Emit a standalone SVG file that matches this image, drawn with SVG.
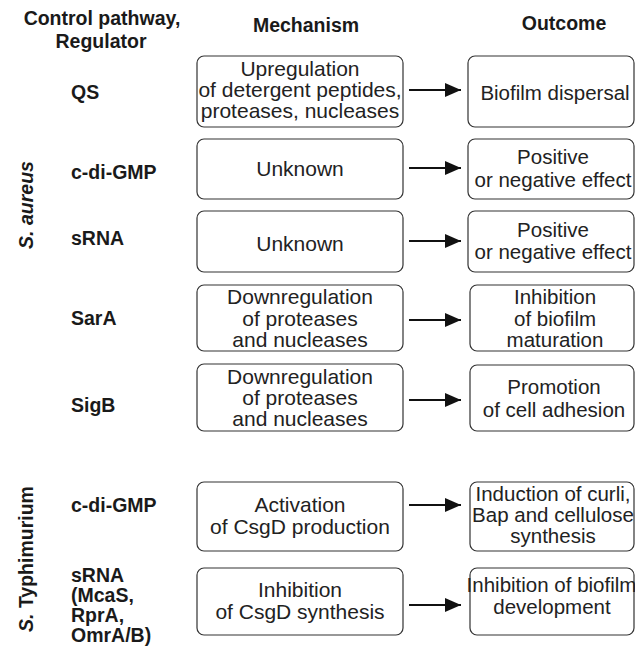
<svg xmlns="http://www.w3.org/2000/svg" width="635" height="655" viewBox="0 0 635 655">
<defs>
<style>
.h{font-family:"Liberation Sans",Arial,sans-serif;font-weight:bold;font-size:19.5px;fill:#1a1a1a}
.l{font-family:"Liberation Sans",Arial,sans-serif;font-weight:bold;font-size:19.5px;fill:#1a1a1a}
.t{font-family:"Liberation Sans",Arial,sans-serif;font-size:21px;fill:#222;text-anchor:middle}
.o{font-family:"Liberation Sans",Arial,sans-serif;font-size:20.5px;fill:#222;text-anchor:middle}
.b{fill:#fff;stroke:#333;stroke-width:1.2}
.a{stroke:#111;stroke-width:2.2;fill:none}
</style>
<marker id="ah" markerUnits="userSpaceOnUse" markerWidth="18" markerHeight="16" refX="16" refY="7" orient="auto">
<path d="M0,0 L16,7 L0,14 z" fill="#111"/>
</marker>
</defs>
<rect width="635" height="655" fill="#fff"/>
<g id="headers">
<text class="h" x="102" y="25" text-anchor="middle">Control pathway,</text>
<text class="h" x="101" y="48" text-anchor="middle">Regulator</text>
<text class="h" x="306" y="32" text-anchor="middle">Mechanism</text>
<text class="h" x="564" y="30" text-anchor="middle">Outcome</text>
</g>
<g id="species">
<text class="h" transform="translate(33,205) rotate(-90)" text-anchor="middle"><tspan font-style="italic">S. aureus</tspan></text>
<text class="h" transform="translate(33,559) rotate(-90)" text-anchor="middle"><tspan font-style="italic">S.</tspan> Typhimurium</text>
</g>
<g id="row-qs">
<text class="l" x="71" y="99">QS</text>
<g id="mech-qs"><rect class="b" x="197" y="56" width="206" height="71" rx="7"/>
<text class="t" x="300" y="76">Upregulation</text>
<text class="t" x="300" y="97">of detergent peptides,</text>
<text class="t" x="300" y="118">proteases, nucleases</text></g>
<g id="out-qs"><rect class="b" x="468" y="56" width="166" height="71" rx="7"/>
<text class="o" x="555" y="100">Biofilm dispersal</text></g>
</g>
<g id="row-cdigmp-sa">
<text class="l" x="71" y="179">c-di-GMP</text>
<g id="mech-cdigmp-sa"><rect class="b" x="197" y="139" width="206" height="60" rx="7"/>
<text class="t" x="300" y="176">Unknown</text></g>
<g id="out-cdigmp-sa"><rect class="b" x="468" y="139" width="166" height="60" rx="7"/>
<text class="o" x="553" y="164">Positive</text>
<text class="o" x="553" y="187">or negative effect</text></g>
</g>
<g id="row-srna-sa">
<text class="l" x="71" y="245">sRNA</text>
<g id="mech-srna-sa"><rect class="b" x="197" y="211" width="206" height="61" rx="7"/>
<text class="t" x="300" y="251">Unknown</text></g>
<g id="out-srna-sa"><rect class="b" x="468" y="211" width="166" height="61" rx="7"/>
<text class="o" x="553" y="237">Positive</text>
<text class="o" x="553" y="259">or negative effect</text></g>
</g>
<g id="row-sara">
<text class="l" x="71" y="325">SarA</text>
<g id="mech-sara"><rect class="b" x="197" y="285" width="206" height="66" rx="7"/>
<text class="t" x="300" y="304">Downregulation</text>
<text class="t" x="300" y="326">of proteases</text>
<text class="t" x="300" y="347">and nucleases</text></g>
<g id="out-sara"><rect class="b" x="470" y="285" width="164" height="66" rx="7"/>
<text class="o" x="555" y="304">Inhibition</text>
<text class="o" x="555" y="326">of biofilm</text>
<text class="o" x="555" y="347">maturation</text></g>
</g>
<g id="row-sigb">
<text class="l" x="71" y="412">SigB</text>
<g id="mech-sigb"><rect class="b" x="197" y="364" width="206" height="67" rx="7"/>
<text class="t" x="300" y="384">Downregulation</text>
<text class="t" x="300" y="405">of proteases</text>
<text class="t" x="300" y="426">and nucleases</text></g>
<g id="out-sigb"><rect class="b" x="470" y="365" width="164" height="66" rx="7"/>
<text class="o" x="554" y="394">Promotion</text>
<text class="o" x="554" y="417">of cell adhesion</text></g>
</g>
<g id="row-cdigmp-st">
<text class="l" x="71" y="512">c-di-GMP</text>
<g id="mech-cdigmp-st"><rect class="b" x="197" y="482" width="206" height="69" rx="7"/>
<text class="t" x="300" y="512">Activation</text>
<text class="t" x="300" y="534">of CsgD production</text></g>
<g id="out-cdigmp-st"><rect class="b" x="470" y="482" width="164" height="69" rx="7"/>
<text class="o" x="553" y="501">Induction of curli,</text>
<text class="o" x="553" y="522">Bap and cellulose</text>
<text class="o" x="553" y="543">synthesis</text></g>
</g>
<g id="row-srna-st">
<text class="l" x="71" y="582">sRNA</text>
<text class="l" x="71" y="602">(McaS,</text>
<text class="l" x="71" y="622">RprA,</text>
<text class="l" x="71" y="642">OmrA/B)</text>
<g id="mech-srna-st"><rect class="b" x="197" y="568" width="206" height="67" rx="7"/>
<text class="t" x="300" y="597">Inhibition</text>
<text class="t" x="300" y="619">of CsgD synthesis</text></g>
<g id="out-srna-st"><rect class="b" x="470" y="568" width="164" height="67" rx="7"/>
<text class="o" x="551.5" y="592" font-size="20">Inhibition of biofilm</text>
<text class="o" x="552" y="614">development</text></g>
</g>
<g id="connectors">
<line class="a" x1="409" y1="90" x2="461" y2="90" marker-end="url(#ah)"/>
<line class="a" x1="409" y1="168" x2="461" y2="168" marker-end="url(#ah)"/>
<line class="a" x1="409" y1="241" x2="461" y2="241" marker-end="url(#ah)"/>
<line class="a" x1="409" y1="320" x2="461" y2="320" marker-end="url(#ah)"/>
<line class="a" x1="409" y1="400" x2="461" y2="400" marker-end="url(#ah)"/>
<line class="a" x1="409" y1="505" x2="461" y2="505" marker-end="url(#ah)"/>
<line class="a" x1="409" y1="605" x2="461" y2="605" marker-end="url(#ah)"/>
</g>
</svg>
